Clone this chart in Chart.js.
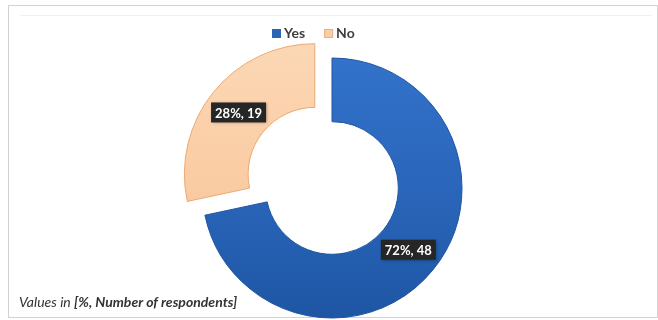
<!DOCTYPE html>
<html lang="en">
<head>
    <meta charset="UTF-8">
    <title>Survey answers</title>
    <script src="https://cdn.jsdelivr.net/npm/chart.js"></script>
    <style>
        html, body {
            margin: 0;
            padding: 0;
            background: #ffffff;
        }
        .wrap {
            width: 658px;
            height: 320px;
        }
    </style>
</head>
<body>
    <div class="wrap"><canvas id="answers"></canvas></div>

    <script>
        const answers = ['Yes', 'No'];
        const respondents = [48, 19];
        const explode = [0, 88];
        const footnoteLead = 'Values in ';
        const footnoteUnit = '[%, Number of respondents]';

        const FONT = 'Lato, "Liberation Sans", sans-serif';
        const total = respondents.reduce((a, b) => a + b, 0);

        // vertical gradients for the two slices
        function sliceFill(context) {
            const chart = context.chart;
            if (!chart.chartArea) return '#2a67b8';
            const g = chart.ctx.createLinearGradient(0, 50, 0, 318);
            if (context.dataIndex === 0) {
                g.addColorStop(0, '#3373cb');
                g.addColorStop(0.5, '#2a66bb');
                g.addColorStop(1, '#1e56a4');
            } else {
                g.addColorStop(0, '#fcd8b6');
                g.addColorStop(1, '#f8c294');
            }
            return g;
        }

        const frame = {
            id: 'frame',
            beforeDraw(chart) {
                const c = chart.ctx;
                c.save();
                c.strokeStyle = '#d2d2d2';
                c.lineWidth = 1;
                c.strokeRect(8.5, 5.5, 649, 312);
                c.strokeStyle = '#f0f0f0';
                c.beginPath();
                c.moveTo(20, 15.5);
                c.lineTo(652, 15.5);
                c.stroke();
                c.restore();
            }
        };

        const legendRow = {
            id: 'legendRow',
            afterDraw(chart) {
                const c = chart.ctx;
                const colors = ['#2b64b4', '#f9cda6'];
                c.save();
                c.font = 'bold 14px ' + FONT;
                c.textBaseline = 'middle';
                let x = 272;
                answers.forEach((name, i) => {
                    c.fillStyle = colors[i];
                    c.fillRect(x, 29, 9, 9);
                    if (i === 1) {
                        c.strokeStyle = '#eeb27c';
                        c.strokeRect(x + 0.5, 29.5, 8, 8);
                    }
                    c.fillStyle = '#3f3f3f';
                    c.fillText(name, x + 12, 33.5);
                    x += 12 + c.measureText(name).width + 19;
                });
                c.restore();
            }
        };

        const valueTags = {
            id: 'valueTags',
            afterDatasetsDraw(chart) {
                const c = chart.ctx;
                const meta = chart.getDatasetMeta(0);
                c.save();
                c.font = 'bold 13px ' + FONT;
                c.textAlign = 'center';
                c.textBaseline = 'middle';
                meta.data.forEach((arc, i) => {
                    const mid = (arc.startAngle + arc.endAngle) / 2;
                    const r = (arc.innerRadius + arc.outerRadius) / 2 + (arc.options.offset || 0) / 4;
                    const px = arc.x + Math.cos(mid) * r;
                    const py = arc.y + Math.sin(mid) * r;
                    const pct = Math.round(respondents[i] / total * 100);
                    const text = pct + '%, ' + respondents[i];
                    const w = c.measureText(text).width + 8;
                    const h = 20;
                    c.shadowColor = 'rgba(0,0,0,0.35)';
                    c.shadowBlur = 3;
                    c.shadowOffsetX = 1;
                    c.shadowOffsetY = 1;
                    c.fillStyle = '#262626';
                    c.fillRect(px - w / 2, py - h / 2, w, h);
                    c.shadowColor = 'transparent';
                    c.fillStyle = '#ffffff';
                    c.fillText(text, px, py + 1);
                });
                c.restore();
            }
        };

        const footnote = {
            id: 'footnote',
            afterDraw(chart) {
                const c = chart.ctx;
                c.save();
                c.fillStyle = '#333333';
                c.textBaseline = 'alphabetic';
                c.font = 'italic 14px ' + FONT;
                c.fillText(footnoteLead, 19, 307);
                const w = c.measureText(footnoteLead).width;
                c.font = 'italic bold 14px ' + FONT;
                c.fillText(footnoteUnit, 19 + w, 307);
                c.restore();
            }
        };

        new Chart(document.getElementById('answers'), {
            type: 'doughnut',
            data: {
                labels: answers,
                datasets: [{
                    data: respondents,
                    backgroundColor: sliceFill,
                    borderColor: ['#1f55a0', '#eca86f'],
                    borderWidth: 1,
                    offset: explode,
                    clip: false
                }]
            },
            options: {
                responsive: true,
                maintainAspectRatio: false,
                animation: false,
                radius: 130,
                cutout: '51%',
                layout: { padding: { top: 56, bottom: 0, left: 6, right: 0 } },
                plugins: {
                    legend: { display: false },
                    tooltip: { enabled: false }
                }
            },
            plugins: [frame, valueTags, legendRow, footnote]
        });
    </script>
</body>
</html>
